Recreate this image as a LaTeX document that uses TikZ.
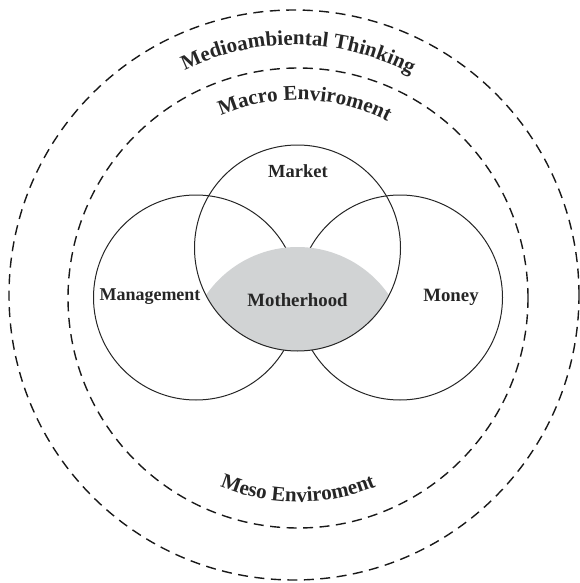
\documentclass[tikz,border=0pt]{standalone}
\usepackage{fontspec}
\setmainfont{Liberation Serif}
\usetikzlibrary{decorations.text}
\definecolor{greyc}{RGB}{209,211,212}
\begin{document}
\begin{tikzpicture}[x=1pt,y=1pt,
  ring/.style={draw=black!90,line width=1.4pt,dash pattern=on 10pt off 6.5pt},
  venn/.style={draw=black!85,line width=1pt},
  lab/.style={font=\fontsize{#1}{20}\selectfont\bfseries,text=black!85,inner sep=0pt},
  lab/.default=18.5,
  arctext/.style={decorate,decoration={text along path,text align=center,
     text={|\fontsize{21}{24}\selectfont\bfseries\color{black!85}|#1}}}
]
\useasboundingbox (0,0) rectangle (579,-583);
% dashed rings
\draw[ring] (294,-295) circle (285);
\draw[ring] (298,-298) circle (230);
% venn circles
\draw[venn] (196,-297.5) circle (102.5);
\draw[venn] (400,-297.5) circle (102.5);
% shaded centre
\begin{scope}
  \clip (297.5,-248) circle (103);
  \fill[greyc] (297.5,-358) circle (111);
\end{scope}
\draw[venn] (297.5,-248) circle (103);
% labels
\node[lab] (market) at (298,-171) {Market};
\node[lab=18] (management) at (150,-297) {Management};
\node[lab=18.8] (money) at (451,-297) {Money};
\node[lab=18.8] (motherhood) at (297.5,-300) {Motherhood};
% curved texts
\path[arctext={Medioambiental Thinking}]
  (294,-295) ++(121:250) arc[start angle=121,end angle=57,radius=250];
\path[arctext={Macro Enviroment}]
  (298,-298) ++(128:198) arc[start angle=128,end angle=48,radius=198];
\path[arctext={Meso Enviroment}]
  (298,-298) ++(230.5:204) arc[start angle=230.5,end angle=309.5,radius=204];
\end{tikzpicture}
\end{document}
